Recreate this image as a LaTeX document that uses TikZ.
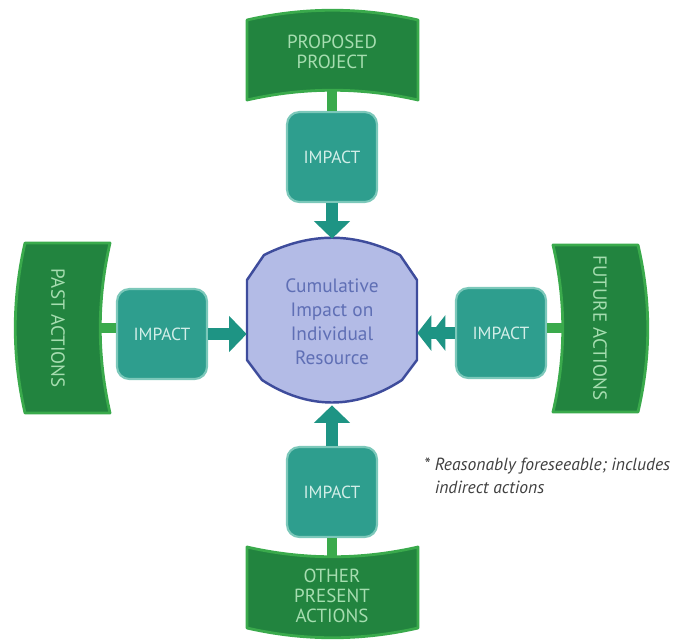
\documentclass[tikz,border=0pt]{standalone}
\usepackage{fontspec}
\setmainfont{PT Sans}
\usetikzlibrary{arrows.meta}
\definecolor{banfill}{HTML}{22843F}
\definecolor{banedge}{HTML}{3AAA4C}
\definecolor{bantxt}{HTML}{A6DDB0}
\definecolor{impfill}{HTML}{2E9E8E}
\definecolor{impedge}{HTML}{7CC8BA}
\definecolor{imptxt}{HTML}{D2EEE8}
\definecolor{arrcol}{HTML}{1E9484}
\definecolor{cumfill}{HTML}{B3BBE6}
\definecolor{cumedge}{HTML}{3E4C9C}
\definecolor{cumtxt}{HTML}{5F6FB5}
\tikzset{
  banner/.style={fill=banfill, draw=banedge, line width=1.6pt, line join=round},
  bantext/.style={text=bantxt, font=\fontsize{10.8}{11.5}\selectfont, align=center},
  stem/.style={draw=banedge, line width=6pt},
  impbox/.style={rectangle, rounded corners=7pt, fill=impfill, draw=impedge, line width=1.2pt,
    minimum width=1.8cm, minimum height=1.8cm, text=imptxt, font=\fontsize{10}{12}\selectfont},
  imparrow/.style={draw=arrcol, line width=7pt, -{Triangle[length=10pt,width=20pt]}},
}
\begin{document}
\begin{tikzpicture}[x=0.02cm,y=-0.02cm]
  \useasboundingbox (0,0) rectangle (675,639);
  \def\topbanner{(247,20) .. controls (304,7) and (361,7) .. (418,20) -- (418,100) .. controls (361,87) and (304,87) .. (247,100) -- cycle}
  \def\botbanner{(247,547) .. controls (304,560) and (361,560) .. (418,547) -- (418,628) .. controls (361,641) and (304,641) .. (247,628) -- cycle}
  \def\leftbanner{(25,243) .. controls (12,300) and (12,356) .. (25,413) -- (110,413) .. controls (97,356) and (97,300) .. (110,243) -- cycle}
  \def\rightbanner{(553,245) .. controls (566,301) and (566,356) .. (553,412) -- (638,412) .. controls (651,356) and (651,301) .. (638,245) -- cycle}
  \def\cumshape{(247,280) -- (264,255) .. controls (310,232) and (354,232) .. (400,255) -- (417,280) -- (417,360) -- (402,380) .. controls (356,410) and (308,410) .. (262,380) -- (247,360) -- cycle}

  % central resource
  \filldraw[fill=cumfill, draw=cumedge, line width=1.4pt, line join=round] \cumshape;
  \node (cum) [minimum width=3.4cm, minimum height=3.32cm, inner sep=0pt, text=cumtxt,
    font=\fontsize{11}{13.6}\selectfont, align=center] at (332,322)
    {Cumulative\\Impact on\\Individual\\Resource};

  % impact boxes
  \node (impT) [impbox] at (332,157) {IMPACT};
  \node (impL) [impbox] at (162,334) {IMPACT};
  \node (impR) [impbox] at (501,333) {IMPACT};
  \node (impB) [impbox] at (332,492) {IMPACT};

  % stems behind the banners
  \coordinate (banT) at (332,56);
  \coordinate (banL) at (60,328);
  \coordinate (banR) at (600,328);
  \coordinate (banB) at (332,590);
  \draw[stem] (banT) -- (impT);
  \draw[stem] (banL) -- (banL -| impL.west);
  \draw[stem] (banR) -- (banR -| impR.east);
  \draw[stem] (banB) -- (impB);

  \draw[banner] \topbanner node [bantext] at (332,52) {PROPOSED\\PROJECT};
  \draw[banner] \leftbanner node [bantext, rotate=-90] at (58,328) {PAST ACTIONS};
  \draw[banner] \rightbanner node [bantext, rotate=-90] at (600,328) {FUTURE ACTIONS};
  \draw[banner] \botbanner node [bantext] at (332,596) {OTHER\\PRESENT\\ACTIONS};

  % arrows into the resource
  \draw[imparrow] (impT) -- (cum);
  \draw[imparrow] (impB) -- (cum);
  \draw[imparrow] (impL) -- (impL -| cum.west);
  \draw[imparrow, -{Triangle[length=8pt,width=20pt] Triangle[length=8pt,width=20pt]}] (impR) -- (impR -| cum.east);

  \node (note) [anchor=west, text=black!75, align=left,
    font=\fontsize{10}{13}\itshape] at (418,476)
    {* Reasonably foreseeable; includes\\\hphantom{* }indirect actions};
\end{tikzpicture}
\end{document}
